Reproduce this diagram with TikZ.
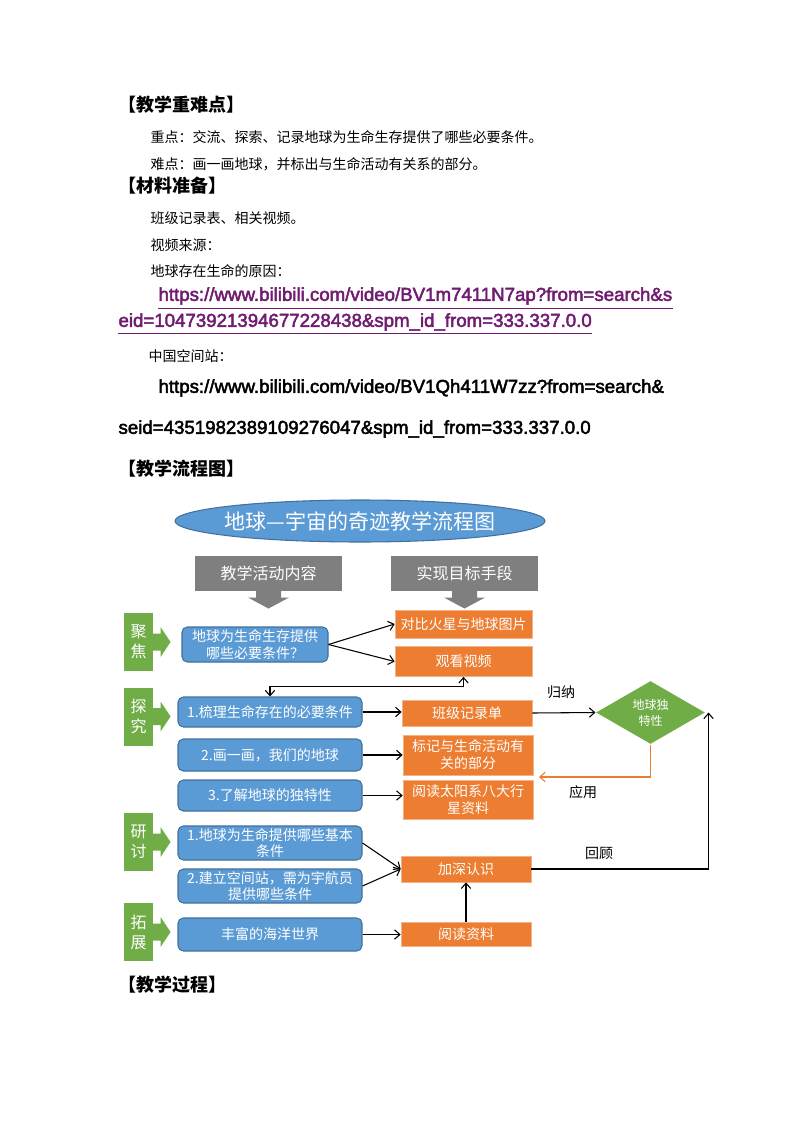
\documentclass[tikz,border=0pt]{standalone}
\usepackage{fontspec}
\setmainfont{Noto Sans CJK SC}
\newfontfamily\urlfont{Liberation Sans}[FakeBold=2.5]
\usetikzlibrary{positioning}
\usetikzlibrary{shapes}
\usetikzlibrary{calc}
\usetikzlibrary{arrows.meta}
\definecolor{bluefill}{HTML}{5B9BD5}
\definecolor{blueedge}{HTML}{41719C}
\definecolor{orangefill}{HTML}{ED7D31}
\definecolor{orangeedge}{HTML}{F4B183}
\definecolor{greenfill}{HTML}{70AD47}
\definecolor{grayfill}{HTML}{7F7F7F}
\definecolor{linkpurple}{HTML}{701C70}
\tikzset{
    every picture/.append style={
        >={Straight Barb[length=4pt,width=7pt]}
    }
}
\tikzset{
    bodytext/.style={anchor=west, inner sep=0pt, font=\fontsize{10.5pt}{13pt}\selectfont},
    headtext/.style={anchor=west, inner sep=0pt, font=\fontsize{13.5pt}{16pt}\selectfont\bfseries},
    linktext/.style={anchor=west, inner sep=0pt, font=\urlfont\fontsize{14pt}{16pt}\selectfont},
    bluebox/.style={rectangle, rounded corners=4pt, draw=blueedge, line width=0.8pt, fill=bluefill, text=white, align=center, inner sep=1pt, minimum width=138pt, font=\fontsize{10.5pt}{12.5pt}\selectfont},
    orangebox/.style={rectangle, draw=orangeedge, line width=0.5pt, fill=orangefill, text=white, align=center, inner sep=1pt, minimum width=97.5pt, font=\fontsize{10.5pt}{12.75pt}\selectfont},
    graybox/.style={rectangle, fill=grayfill, text=white, minimum width=110.25pt, minimum height=26.25pt, inner sep=0pt, font=\fontsize{12pt}{14pt}\selectfont},
    greenbox/.style={rectangle, fill=greenfill, text=white, minimum width=21.75pt, minimum height=43.5pt, inner sep=0pt, align=center, font=\fontsize{12pt}{15pt}\selectfont},
    lbl/.style={inner sep=0pt, font=\fontsize{10.5pt}{12pt}\selectfont},
}
\begin{document}
\begin{tikzpicture}[x=0.75pt, y=-0.75pt, line width=0.8pt]
\fill[white] (0,0) rectangle (794,1123);
\useasboundingbox (0,0) rectangle (794,1123);

% text above the chart
\node[headtext] (h1) at (118,105) {【教学重难点】};
\node[bodytext] (t1) at (150,137) {重点：交流、探索、记录地球为生命生存提供了哪些必要条件。};
\node[bodytext] (t2) at (150,164) {难点：画一画地球，并标出与生命活动有关系的部分。};
\node[headtext] (h2) at (118,186) {【材料准备】};
\node[bodytext] (t3) at (150,218) {班级记录表、相关视频。};
\node[bodytext] (t4) at (150,245) {视频来源：};
\node[bodytext] (t5) at (150,271) {地球存在生命的原因：};
\node[linktext, text=linkpurple] (u1) at (158,296) {https://www.bilibili.com/video/BV1m7411N7ap?from=search\&s};
\node[linktext, text=linkpurple] (u2) at (118,322) {eid=10473921394677228438\&spm\_id\_from=333.337.0.0};
\draw[linkpurple, line width=0.75pt] ($(u1.west)+(0,12)$) -- ($(u1.east)+(0,12)$);
\draw[linkpurple, line width=0.75pt] ($(u2.west)+(0,11)$) -- ($(u2.east)+(0,11)$);
\node[bodytext] (t6) at (148,356) {中国空间站：};
\node[linktext] (u3) at (158,388) {https://www.bilibili.com/video/BV1Qh411W7zz?from=search\&};
\node[linktext] (u4) at (118,429) {seid=4351982389109276047\&spm\_id\_from=333.337.0.0};
\node[headtext] (h3) at (118,469) {【教学流程图】};
\node[headtext] (h4) at (118,985) {【教学过程】};

% chart
\node[ellipse, draw=blueedge, fill=bluefill, minimum width=277.5pt, minimum height=31.5pt, inner xsep=-8pt, inner ysep=0pt, text=white, font=\fontsize{15.75pt}{18pt}\selectfont] (title) at (360,521) {地球—宇宙的奇迹教学流程图};

\node[graybox] (g1) at (268.5,573.5) {教学活动内容};
\node[graybox] (g2) at (464.5,573.5) {实现目标手段};
\foreach \gname in {g1,g2} {
    \fill[grayfill] ($(\gname.south)+(-12.5,-0.5)$) -- ++(0,6.5) -- ++(-8,0) -- ++(20.5,11) -- ++(20.5,-11) -- ++(-8,0) -- ++(0,-6.5) -- cycle;
}

\node[greenbox] (jj) at (138.5,642) {聚\\焦};
\node[greenbox] (tj) at (138.5,716.5) {探\\究};
\node[greenbox] (yt) at (138.5,842) {研\\讨};
\node[greenbox] (tz) at (138.5,932) {拓\\展};
\foreach \gname in {jj,tj,yt,tz} {
    \fill[greenfill] ($(\gname.east)+(-0.5,-8.5)$) -- ++(7.5,0) -- ++(0,-6.5) -- ++(10,15) -- ++(-10,15) -- ++(0,-6.5) -- ++(-7.5,0) -- cycle;
}

\node[bluebox, minimum width=109.5pt, minimum height=26.25pt] (b1) at (255,644.5) {地球为生命生存提供\\哪些必要条件？};
\node[bluebox, minimum height=22.5pt] (b2) at (270,712) {1.梳理生命存在的必要条件};
\node[bluebox, minimum height=24pt] (b3) at (270,755) {2.画一画，我们的地球};
\node[bluebox, minimum height=23.25pt] (b4) at (270,795.5) {3.了解地球的独特性};
\node[bluebox, minimum height=25.5pt] (b5) at (270,843) {1.地球为生命提供哪些基本\\条件};
\node[bluebox, minimum height=25.5pt] (b6) at (270,886) {2.建立空间站，需为宇航员\\提供哪些条件};
\node[bluebox, minimum height=24.75pt] (b7) at (270,934.5) {丰富的海洋世界};

\node[orangebox, minimum width=102.75pt, minimum height=21pt] (o1) at (463.5,624) {对比火星与地球图片};
\node[orangebox, minimum width=102.75pt, minimum height=22.5pt] (o2) at (463.5,661.5) {观看视频};
\node[orangebox, minimum height=19.5pt] (o3) at (467,713) {班级记录单};
\node[orangebox, minimum height=30pt] (o4) at (468,755) {标记与生命活动有\\关的部分};
\node[orangebox, minimum height=29.25pt] (o5) at (468,799.5) {阅读太阳系八大行\\星资料};
\node[orangebox, minimum height=19.5pt] (o6) at (466,869) {加深认识};
\node[orangebox, minimum height=18pt] (o7) at (466,934.5) {阅读资料};

\node[diamond, fill=greenfill, minimum width=81.75pt, minimum height=45.75pt, inner sep=0pt, text=white, align=center, font=\fontsize{9pt}{12pt}\selectfont] (dia) at (650.5,712.5) {地球独\\特性};

\node[lbl] (guina) at (561,692) {归纳};
\node[lbl] (yingyong) at (583,792) {应用};
\node[lbl] (huigu) at (599,853) {回顾};

% connectors
\draw[->] (b1.east) -- (o1.west);
\draw[->] (b1.east) -- (o2.west);
\draw[<->] (b2.north) -- ++(0,-10) -| (o2.south);
\draw[->] (b2.east) -- (b2.east -| o3.west);
\draw[->] (o3.east) -- (dia.west);
\draw[->] (b3.east) -- (b3.east -| o4.west);
\draw[->] (b4.east) -- (b4.east -| o5.west);
\draw[->] (b5.east) -- (o6.west);
\draw[->] (b6.east) -- (o6.west);
\draw[->] (b7.east) -- (b7.east -| o7.west);
\draw[->] (o7.north) -- (o6.south);
\draw[->] (o6.east) -| ($(dia.east)+(3,0)$);
\coordinate (use) at (539,777);
\draw[orangefill, ->] (dia.south) |- (use);
\end{tikzpicture}
\end{document}
